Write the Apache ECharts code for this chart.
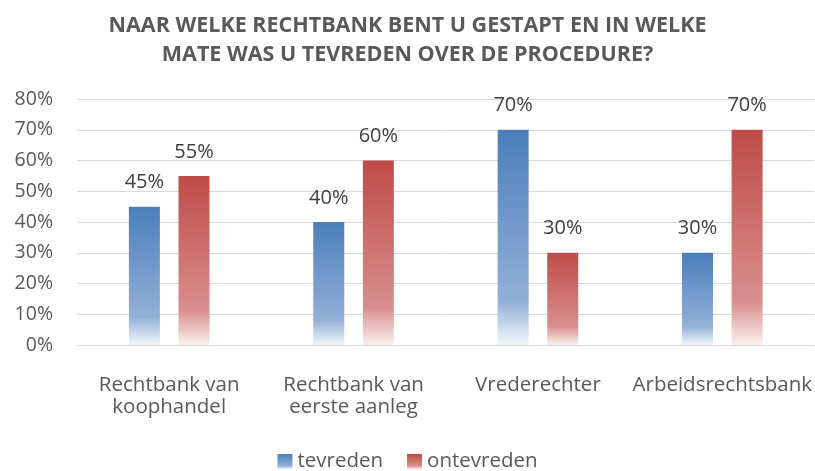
<!DOCTYPE html>
<html>
<head>
<meta charset="utf-8">
<script src="https://cdn.jsdelivr.net/npm/echarts@6/dist/echarts.min.js"></script>
<style>
  html, body { margin: 0; padding: 0; background: #fff; }
  #chart { width: 815px; height: 471px; }
</style>
</head>
<body>
<div id="chart"></div>
<script>
const categories = ['Rechtbank van\nkoophandel', 'Rechtbank van\neerste aanleg', 'Vrederechter', 'Arbeidsrechtsbank'];
const tevreden = [45, 40, 70, 30];
const ontevreden = [55, 60, 30, 70];
const yTicks = [0, 10, 20, 30, 40, 50, 60, 70, 80];

const font = '"Open Sans", sans-serif';

// verloop van boven (vol) naar onder (wit)
function fade(top, mid, low) {
  return new echarts.graphic.LinearGradient(0, 0, 0, 1, [
    { offset: 0, color: top },
    { offset: 0.8, color: mid },
    { offset: 1, color: low }
  ]);
}

let myChart = echarts.init(document.getElementById('chart'), null, { renderer: 'canvas' });

let option = {
  backgroundColor: '#ffffff',
  animation: false,
  title: {
    text: 'NAAR WELKE RECHTBANK BENT U GESTAPT EN IN WELKE\nMATE WAS U TEVREDEN OVER DE PROCEDURE?',
    left: 'center',
    top: 6,
    textStyle: {
      fontFamily: font,
      fontSize: 21.5,
      fontWeight: 'bold',
      color: '#595959',
      lineHeight: 29
    }
  },
  legend: {
    top: 446,
    left: 'center',
    itemWidth: 15,
    itemHeight: 15,
    itemGap: 24,
    icon: 'rect',
    textStyle: { fontFamily: font, fontSize: 20.5, color: '#595959' },
    data: ['tevreden', 'ontevreden']
  },
  grid: { left: 77, right: 0, top: 99, bottom: 126 },
  xAxis: {
    type: 'category',
    data: categories,
    axisTick: { show: false },
    axisLine: { lineStyle: { color: '#d9d9d9', width: 1 } },
    axisLabel: {
      fontFamily: font,
      fontSize: 20.5,
      color: '#595959',
      lineHeight: 22,
      margin: 29,
      interval: 0
    }
  },
  yAxis: {
    type: 'value',
    min: 0,
    max: 80,
    interval: 10,
    axisLine: { show: false },
    axisTick: { show: false },
    splitLine: { lineStyle: { color: '#d9d9d9', width: 1 } },
    axisLabel: {
      fontFamily: font,
      fontSize: 19.5,
      color: '#595959',
      margin: 24,
      formatter: v => yTicks.includes(v) ? v + '%' : ''
    }
  },
  series: [
    {
      name: 'tevreden',
      type: 'bar',
      data: tevreden,
      barWidth: 31,
      barGap: '60%',
      itemStyle: { color: fade('#4a7ebb', '#93b1d8', '#f4f7fb') },
      label: {
        show: true,
        position: 'top',
        distance: 14,
        formatter: '{c}%',
        fontFamily: font,
        fontSize: 20,
        color: '#404040'
      }
    },
    {
      name: 'ontevreden',
      type: 'bar',
      data: ontevreden,
      barWidth: 31,
      itemStyle: { color: fade('#be4b48', '#d98f8d', '#fbf1f1') },
      label: {
        show: true,
        position: 'top',
        distance: 14,
        formatter: '{c}%',
        fontFamily: font,
        fontSize: 20,
        color: '#404040'
      }
    }
  ]
};

myChart.setOption(option);
</script>
</body>
</html>
